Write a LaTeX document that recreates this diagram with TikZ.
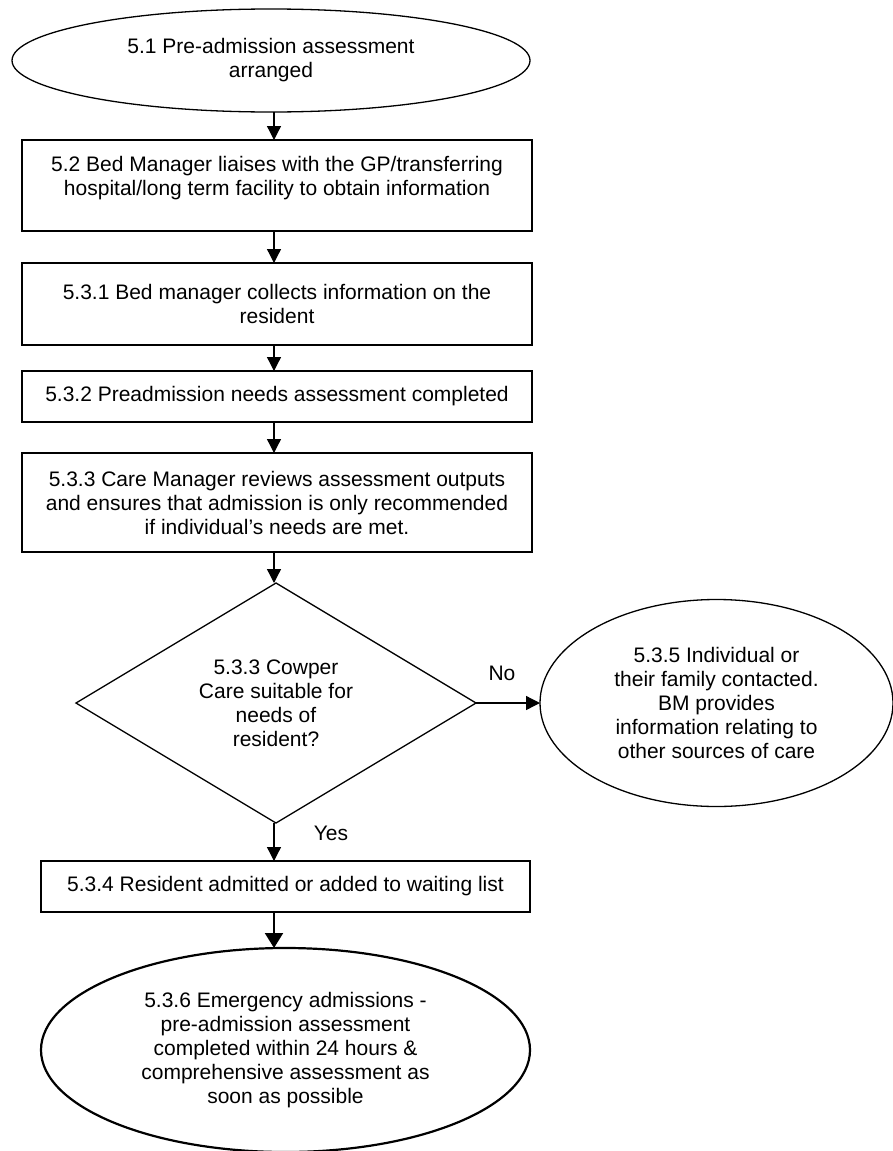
\documentclass[tikz,border=0pt]{standalone}
\usepackage{fontspec}
\setmainfont{Liberation Sans}
\usetikzlibrary{shapes.geometric,arrows.meta}
\begin{document}
\begin{tikzpicture}[x=1pt,y=-1pt,
  every node/.style={font=\fontsize{21}{24}\selectfont, inner sep=0pt, outer sep=0pt, align=center, text=black},
  boxst/.style={draw, rectangle, line width=1.3pt},
  ellst/.style={draw, ellipse, line width=1.3pt},
  thickell/.style={draw, ellipse, line width=2.2pt},
  decst/.style={draw, diamond, line width=1.3pt},
  arr/.style={line width=1.3pt, -{Triangle[length=14pt,width=14pt]}},
  thickarr/.style={line width=2.2pt, -{Triangle[length=15pt,width=18pt]}},
  lbl/.style={font=\fontsize{21}{24}\selectfont}
]
\useasboundingbox (0,0) rectangle (893,1151);
\coordinate (ax) at (274,0);

\node[ellst, minimum width=518pt, minimum height=103pt] (e1) at (271,60.5)
  {5.1 Pre-admission assessment\\arranged};

\node[boxst, minimum width=510pt, minimum height=91pt] (b52) at (277,185.5) {};
\node (t52) at (277,178)
  {5.2 Bed Manager liaises with the GP/transferring\\hospital/long term facility to obtain information};

\node[boxst, minimum width=510pt, minimum height=82pt] (b531) at (277,304)
  {5.3.1 Bed manager collects information on the\\resident};

\node[boxst, minimum width=510pt, minimum height=51pt] (b532) at (277,396.5)
  {5.3.2 Preadmission needs assessment completed};

\node[boxst, minimum width=510pt, minimum height=99pt] (b533) at (277,502.5)
  {5.3.3 Care Manager reviews assessment outputs\\and ensures that admission is only recommended\\if individual’s needs are met.};

\node[decst, minimum width=400pt, minimum height=240pt, aspect=1.667] (d) at (276,703)
  {5.3.3 Cowper\\Care suitable for\\needs of\\resident?};

\node[ellst, minimum width=353pt, minimum height=207pt] (e2) at (716.5,703)
  {5.3.5 Individual or\\their family contacted.\\BM provides\\information relating to\\other sources of care};

\node[boxst, minimum width=489pt, minimum height=51pt] (b534) at (285.5,886.5)
  {5.3.4 Resident admitted or added to waiting list};

\node[thickell, minimum width=489pt, minimum height=204pt] (e3) at (285.5,1050)
  {5.3.6 Emergency admissions -\\pre-admission assessment\\completed within 24 hours \&\\comprehensive assessment as\\soon as possible};

\node[lbl] (no) at (502,673) {No};
\node[lbl] (yes) at (331,833) {Yes};

\draw[arr] (e1.south -| ax) -- (b52.north -| ax);
\draw[arr] (b52.south -| ax) -- (b531.north -| ax);
\draw[arr] (b531.south -| ax) -- (b532.north -| ax);
\draw[arr] (b532.south -| ax) -- (b533.north -| ax);
\draw[arr] (b533.south -| ax) -- (d.north -| ax);
\draw[arr] (d.east) -- (d.east -| e2.west);
\draw[arr] (d.south -| ax) -- (b534.north -| ax);
\draw[thickarr] (b534.south -| ax) -- (e3.north -| ax);
\end{tikzpicture}
\end{document}
